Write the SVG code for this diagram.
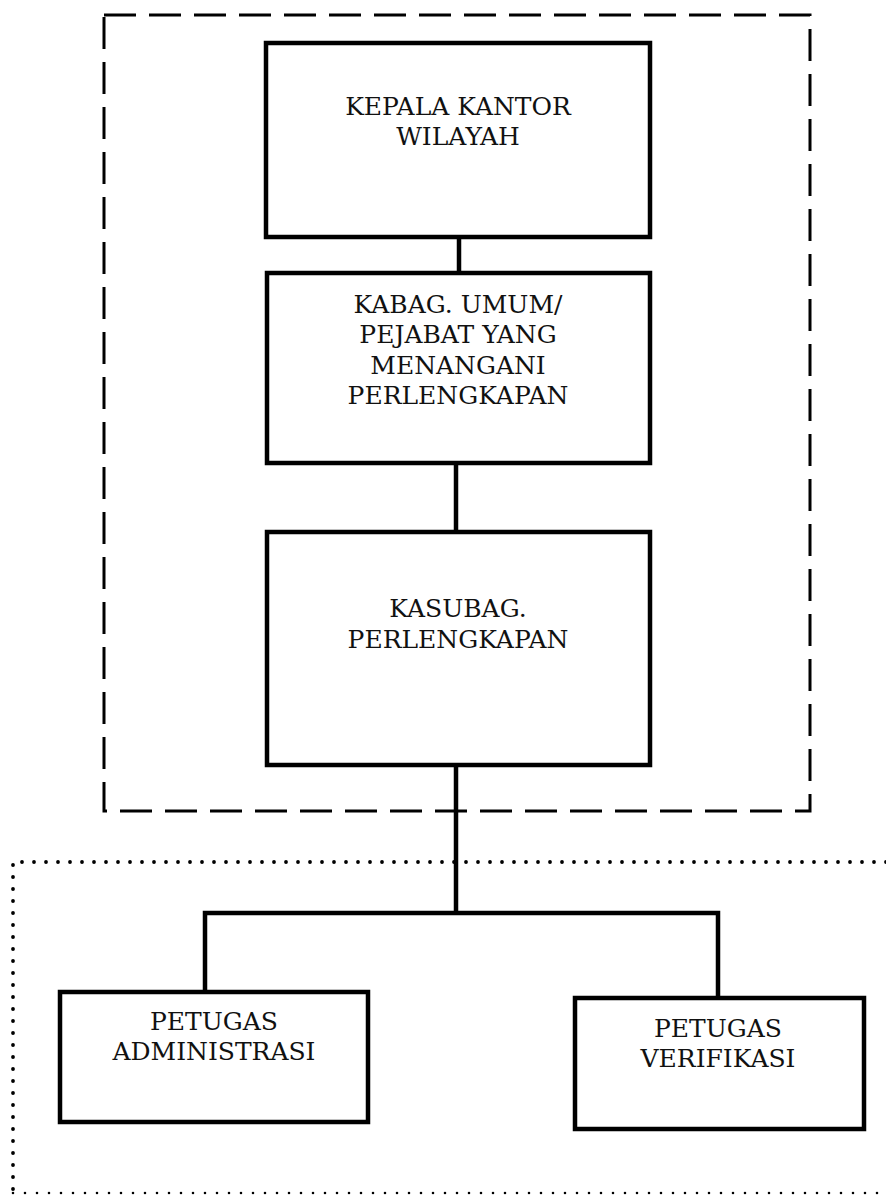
<svg xmlns="http://www.w3.org/2000/svg" width="886" height="1196" viewBox="0 0 886 1196">
<style>
.box{fill:#fff;stroke:#000;stroke-width:4.5}
.t{font-family:"DejaVu Serif","Liberation Serif",serif;font-size:25px;text-anchor:middle;fill:#111}
.con{fill:none;stroke:#000;stroke-width:4.5}
.dash{fill:none;stroke:#000;stroke-width:3;stroke-dasharray:32 13}
.dot{fill:none;stroke:#000;stroke-width:3.8;stroke-linecap:round;stroke-dasharray:0 12}
.dot2{fill:none;stroke:#000;stroke-width:2.6;stroke-linecap:round;stroke-dasharray:0 12}
</style>
<rect width="886" height="1196" fill="#fff"/>
<g id="frames">
<path class="dash" d="M104 15 H810 V811 H104 Z"/>
<path class="dot" d="M886 862 H13 V1193"/>
<path class="dot2" d="M13 1193 H886"/>
</g>
<g id="connectors">
<path class="con" d="M459 237 V273"/>
<path class="con" d="M456 463 V532"/>
<path class="con" d="M456 765 V913"/>
<path class="con" d="M205 992 V913 H718 V998"/>
</g>
<g id="kepala">
<rect class="box" x="266" y="43" width="384" height="194"/>
<text class="t" x="458" y="115">KEPALA KANTOR</text>
<text class="t" x="458" y="145">WILAYAH</text>
</g>
<g id="kabag">
<rect class="box" x="267" y="273" width="383" height="190"/>
<text class="t" x="458" y="313">KABAG. UMUM/</text>
<text class="t" x="458" y="343">PEJABAT YANG</text>
<text class="t" x="458" y="374">MENANGANI</text>
<text class="t" x="458" y="404">PERLENGKAPAN</text>
</g>
<g id="kasubag">
<rect class="box" x="267" y="532" width="383" height="233"/>
<text class="t" x="458" y="617">KASUBAG.</text>
<text class="t" x="458" y="648">PERLENGKAPAN</text>
</g>
<g id="administrasi">
<rect class="box" x="60" y="992" width="308" height="130"/>
<text class="t" x="214" y="1030">PETUGAS</text>
<text class="t" x="214" y="1060">ADMINISTRASI</text>
</g>
<g id="verifikasi">
<rect class="box" x="575" y="998" width="289" height="131"/>
<text class="t" x="718" y="1037">PETUGAS</text>
<text class="t" x="718" y="1067">VERIFIKASI</text>
</g>
</svg>
